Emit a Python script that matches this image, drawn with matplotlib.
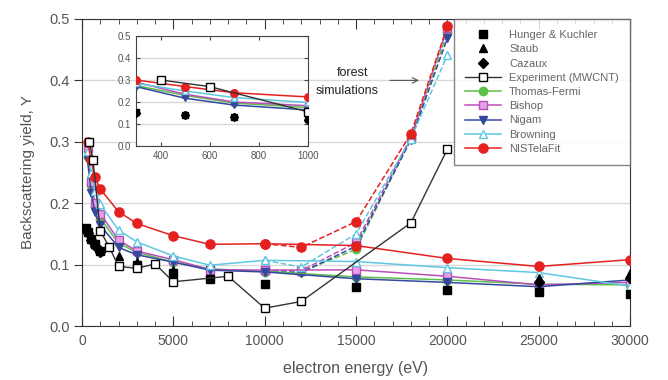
import numpy as np
import matplotlib.pyplot as plt

# measured / reference data
hk_e = [200, 300, 500, 700, 1000, 3000, 5000, 7000, 10000, 15000, 20000, 25000, 30000]
hk_y = [0.160, 0.153, 0.142, 0.133, 0.122, 0.100, 0.087, 0.077, 0.068, 0.063, 0.058, 0.055, 0.052]
staub_e = [300, 500, 700, 1000, 2000, 3000, 5000, 25000, 30000]
staub_y = [0.155, 0.145, 0.135, 0.125, 0.114, 0.105, 0.092, 0.078, 0.087]
cazaux_e = [300, 500, 700, 1000, 25000, 30000]
cazaux_y = [0.152, 0.140, 0.130, 0.120, 0.072, 0.078]
exp_e = [400, 600, 1000, 1500, 2000, 3000, 4000, 5000, 8000, 10000, 12000, 18000, 20000]
exp_y = [0.300, 0.270, 0.155, 0.128, 0.097, 0.094, 0.101, 0.072, 0.081, 0.029, 0.040, 0.168, 0.288]

# simulations (solid)
sim_e = [300, 500, 700, 1000, 2000, 3000, 5000, 7000, 10000, 15000, 20000, 25000, 30000]
tf_y = [0.275, 0.230, 0.195, 0.175, 0.135, 0.120, 0.104, 0.093, 0.089, 0.080, 0.075, 0.068, 0.067]
bishop_y = [0.290, 0.235, 0.200, 0.183, 0.140, 0.122, 0.108, 0.092, 0.091, 0.0915, 0.081, 0.067, 0.071]
nigam_y = [0.270, 0.217, 0.186, 0.164, 0.128, 0.116, 0.104, 0.091, 0.088, 0.077, 0.071, 0.064, 0.075]
brown_y = [0.285, 0.250, 0.220, 0.198, 0.156, 0.137, 0.114, 0.099, 0.107, 0.105, 0.095, 0.087, 0.065]
nist_y = [0.300, 0.270, 0.242, 0.223, 0.186, 0.167, 0.147, 0.133, 0.134, 0.131, 0.110, 0.097, 0.108]

# forest simulations (dashed)
forest_e = [10000, 12000, 15000, 18000, 20000]
tf_f = [0.088, 0.088, 0.125, 0.305, 0.478]
bishop_f = [0.091, 0.090, 0.136, 0.307, 0.486]
nigam_f = [0.088, 0.087, 0.130, 0.303, 0.469]
brown_f = [0.107, 0.096, 0.150, 0.305, 0.441]
nist_f = [0.134, 0.128, 0.170, 0.313, 0.488]

green = "#5cbf4a"
magenta = "#b94fb8"
blue = "#3548a0"
cyan = "#5ec8e2"
red = "#e5211f"
txt = "#555555"

plt.rcParams["font.family"] = ["Liberation Sans", "DejaVu Sans"]

fig = plt.figure(figsize=(6.68, 3.8), dpi=100)
ax = fig.add_axes([0.1228, 0.1421, 0.8204, 0.8079])

sims = [(tf_y, tf_f, green, "o", green, "Thomas-Fermi"),
        (bishop_y, bishop_f, magenta, "s", "#e6a0e6", "Bishop"),
        (nigam_y, nigam_f, blue, "v", blue, "Nigam"),
        (brown_y, brown_f, cyan, "^", "white", "Browning"),
        (nist_y, nist_f, red, "o", red, "NISTelaFit")]


def draw(a, ms):
    a.plot(hk_e, hk_y, "s", color="black", ms=ms * 0.85, ls="none", label="Hunger & Kuchler", zorder=5)
    a.plot(staub_e, staub_y, "^", color="black", ms=ms * 0.95, ls="none", label="Staub", zorder=5)
    a.plot(cazaux_e, cazaux_y, "D", color="black", ms=ms * 0.8, ls="none", label="Cazaux", zorder=5)
    a.plot(exp_e, exp_y, "-s", color="#333333", mfc="white", mec="black", ms=ms * 1.05, lw=1,
           label="Experiment (MWCNT)", zorder=6)
    for y, yf, c, m, fc, name in sims:
        mk = ms * 1.1 if name == "NISTelaFit" else ms
        a.plot(sim_e, y, "-", marker=m, color=c, mfc=fc, mec=c, ms=mk, lw=1.1, label=name, zorder=4)
        a.plot(forest_e, yf, "--", marker=m, color=c, mfc=fc, mec=c, ms=mk, lw=1.1, zorder=3)


draw(ax, 6)

ax.set_xlim(0, 30000)
ax.set_ylim(0, 0.5)
ax.set_xticks(np.arange(0, 30001, 5000))
ax.set_xticks(np.arange(0, 30001, 1000), minor=True)
ax.set_yticks(np.arange(0, 0.51, 0.1))
ax.set_yticklabels(["0.0", "0.1", "0.2", "0.3", "0.4", "0.5"])
ax.yaxis.grid(True, color="#d8d8d8", lw=1)
ax.set_axisbelow(True)
ax.tick_params(axis="x", which="both", direction="in", top=True, colors="#333333",
               labelcolor=txt, labelsize=10)
ax.tick_params(axis="x", which="major", length=7, pad=6)
ax.tick_params(axis="x", which="minor", length=3.5)
ax.tick_params(axis="y", direction="out", length=6, colors="#333333",
               labelcolor=txt, labelsize=10.5, pad=3)
for s in ax.spines.values():
    s.set_color("#333333")
ax.set_xlabel("electron energy (eV)", color=txt, fontsize=11.5, labelpad=9)
ax.set_ylabel("Backscattering yield, Y", color=txt, fontsize=11, labelpad=10)

leg = ax.legend(loc="upper right", fontsize=8, frameon=True, fancybox=False,
                borderaxespad=0, handlelength=3.3, labelspacing=0.38,
                borderpad=1.0, handletextpad=0.7)
leg.get_frame().set_edgecolor("#666666")
leg.get_frame().set_linewidth(1)
for t in leg.get_texts():
    t.set_color("#666666")

ax.annotate("", xy=(18600, 0.4), xytext=(16700, 0.4),
            arrowprops=dict(arrowstyle="->", color="#555555", lw=0.8))
ax.text(14800, 0.412, "forest", ha="center", va="center", fontsize=9, color="#222222")
ax.text(14500, 0.383, "simulations", ha="center", va="center", fontsize=9, color="#222222")

# inset with the low-energy part
ins = fig.add_axes([0.2036, 0.6158, 0.2575, 0.2895])
draw(ins, 5)
ins.set_xlim(300, 1000)
ins.set_ylim(0, 0.5)
ins.set_xticks([400, 600, 800, 1000])
ins.set_yticks(np.arange(0, 0.51, 0.1))
ins.set_yticklabels(["0.0", "0.1", "0.2", "0.3", "0.4", "0.5"])
ins.yaxis.grid(True, color="#d8d8d8", lw=1)
ins.set_axisbelow(True)
ins.tick_params(axis="both", direction="in", top=True, right=True, labelsize=7,
                colors="#444444", labelcolor=txt, length=3)
for s in ins.spines.values():
    s.set_color("#444444")

fig.savefig("out.png", dpi=100)
